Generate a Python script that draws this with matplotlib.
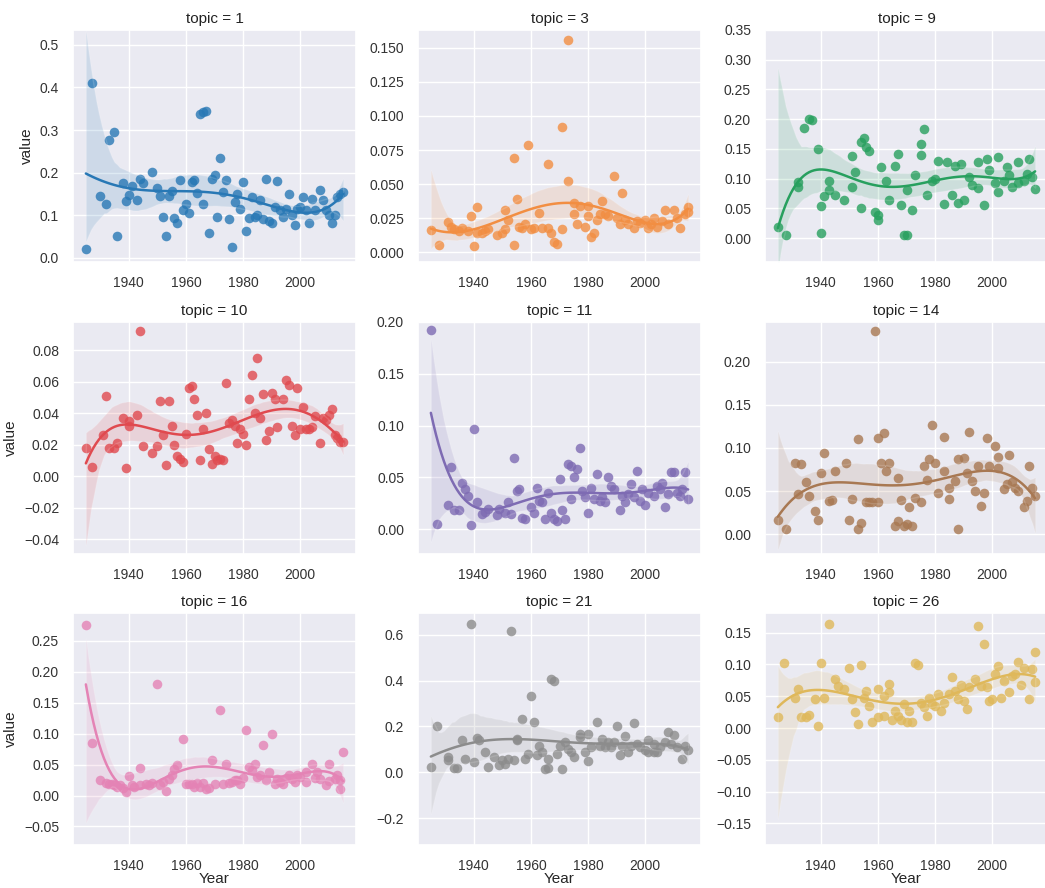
import matplotlib
matplotlib.use("Agg")
import matplotlib.pyplot as plt
import matplotlib.ticker as mticker
import numpy as np
import seaborn as sns

# topic ids shown in the grid, row by row
topics = [1, 3, 9, 10, 11, 14, 16, 21, 26]
colors = ['#2878b5', '#f28e42', '#27a05e', '#e04a4f', '#7e6bb3',
          '#a87852', '#e483b5', '#8c8c8c', '#dfb85a']

# (year, value) points, one list per topic
pts_t1 = [(1925, .02), (1927, .41), (1930, .146), (1932, .127), (1933, .277), (1935, .295),
          (1936, .05), (1938, .175), (1939, .133), (1940, .148), (1941, .169), (1943, .136),
          (1944, .185), (1945, .175), (1948, .202), (1950, .165), (1951, .144), (1952, .095),
          (1953, .05), (1954, .144), (1955, .156), (1956, .094), (1957, .081), (1958, .182),
          (1959, .112), (1960, .127), (1961, .105), (1962, .179), (1963, .182), (1964, .152),
          (1965, .338), (1966, .342), (1966, .127), (1967, .345), (1968, .059), (1969, .186),
          (1970, .194), (1971, .095), (1972, .235), (1973, .154), (1974, .182), (1975, .092),
          (1976, .025), (1977, .131), (1978, .15), (1979, .115), (1980, .179), (1981, .062),
          (1982, .094), (1983, .142), (1984, .096), (1985, .1), (1986, .135), (1987, .092),
          (1988, .185), (1989, .087), (1990, .081), (1991, .119), (1992, .181), (1993, .112),
          (1994, .096), (1995, .115), (1996, .15), (1997, .1), (1998, .077), (1999, .115),
          (2000, .12), (2001, .142), (2002, .112), (2003, .082), (2004, .138), (2005, .112),
          (2007, .158), (2008, .135), (2009, .112), (2010, .1), (2011, .081), (2012, .1),
          (2013, .142), (2014, .15), (2015, .154)]

pts_t3 = [(1925, .0165), (1928, .0056), (1931, .0225), (1932, .019), (1933, .017), (1935, .0157),
          (1936, .018), (1938, .0157), (1939, .0266), (1940, .0048), (1941, .033), (1941, .0145),
          (1943, .0145), (1944, .0157), (1945, .017), (1948, .0128), (1950, .0145), (1951, .017),
          (1951, .031), (1952, .024), (1954, .0056), (1954, .069), (1955, .039), (1956, .019),
          (1957, .018), (1958, .0206), (1959, .079), (1960, .017), (1961, .018), (1963, .029),
          (1964, .018), (1966, .065), (1966, .018), (1967, .0145), (1968, .0073), (1969, .0065),
          (1971, .092), (1971, .017), (1973, .156), (1973, .052), (1975, .028), (1975, .036),
          (1976, .0206), (1977, .034), (1979, .019), (1980, .0266), (1980, .034), (1981, .0114),
          (1982, .0145), (1983, .024), (1984, .028), (1985, .0375), (1986, .028), (1987, .0266),
          (1989, .0557), (1990, .025), (1991, .0206), (1992, .0436), (1993, .024), (1994, .0206),
          (1996, .018), (1997, .023), (1998, .0218), (2000, .024), (2001, .018), (2002, .0206),
          (2003, .025), (2004, .019), (2006, .023), (2007, .031), (2008, .0206), (2010, .031),
          (2011, .025), (2012, .018), (2014, .028), (2015, .033), (2015, .030)]

pts_t9 = [(1925, .018), (1928, .006), (1932, .094), (1932, .086), (1934, .186), (1936, .2),
          (1937, .199), (1939, .15), (1940, .008), (1940, .054), (1941, .071), (1943, .081),
          (1943, .096), (1945, .072), (1948, .064), (1951, .086), (1951, .139), (1952, .112),
          (1954, .051), (1954, .161), (1955, .169), (1956, .153), (1957, .147), (1959, .044),
          (1960, .031), (1960, .039), (1961, .119), (1963, .097), (1964, .064), (1966, .122),
          (1967, .142), (1968, .056), (1969, .006), (1970, .006), (1970, .081), (1972, .047),
          (1973, .106), (1975, .158), (1975, .14), (1976, .183), (1977, .072), (1979, .097),
          (1980, .1), (1981, .129), (1983, .058), (1984, .128), (1986, .072), (1987, .122),
          (1988, .06), (1989, .125), (1990, .064), (1992, .103), (1993, .089), (1995, .084),
          (1995, .128), (1997, .056), (1998, .133), (1999, .114), (2001, .092), (2002, .078),
          (2002, .136), (2004, .097), (2005, .119), (2006, .106), (2007, .086), (2009, .092),
          (2009, .128), (2011, .097), (2012, .108), (2013, .133), (2014, .103), (2015, .083)]

pts_t10 = [(1925, .018), (1927, .006), (1931, .026), (1932, .051), (1933, .018), (1935, .018),
           (1936, .021), (1938, .037), (1939, .005), (1940, .035), (1940, .032), (1943, .039),
           (1944, .092), (1945, .019), (1948, .015), (1950, .019), (1951, .048), (1952, .026),
           (1953, .007), (1954, .048), (1955, .032), (1956, .02), (1957, .013), (1958, .011),
           (1959, .009), (1960, .027), (1961, .056), (1962, .057), (1963, .049), (1964, .039),
           (1965, .01), (1966, .03), (1967, .04), (1968, .017), (1969, .008), (1970, .013),
           (1971, .01), (1972, .011), (1973, .01), (1974, .059), (1975, .034), (1976, .036),
           (1977, .032), (1978, .021), (1979, .03), (1980, .027), (1981, .02), (1982, .049),
           (1983, .064), (1984, .04), (1985, .075), (1986, .037), (1987, .052), (1988, .023),
           (1989, .029), (1990, .053), (1991, .049), (1992, .031), (1994, .049), (1995, .061),
           (1996, .058), (1997, .032), (1998, .026), (1999, .056), (2000, .03), (2001, .044),
           (2002, .03), (2003, .03), (2004, .031), (2005, .038), (2007, .021), (2008, .037),
           (2009, .036), (2010, .039), (2011, .043), (2012, .026), (2013, .024), (2014, .022),
           (2015, .022)]

pts_t11 = [(1925, .192), (1927, .005), (1931, .023), (1932, .06), (1933, .018), (1935, .018),
           (1936, .045), (1937, .039), (1938, .032), (1939, .004), (1940, .097), (1941, .026),
           (1943, .015), (1944, .017), (1945, .019), (1948, .014), (1949, .019), (1951, .016),
           (1952, .026), (1953, .015), (1954, .069), (1955, .037), (1956, .039), (1957, .011),
           (1958, .01), (1960, .021), (1961, .016), (1962, .04), (1963, .027), (1964, .026),
           (1965, .01), (1966, .035), (1967, .016), (1968, .01), (1969, .008), (1970, .048),
           (1971, .018), (1972, .01), (1973, .063), (1974, .061), (1974, .029), (1975, .05),
           (1976, .058), (1977, .078), (1978, .037), (1979, .031), (1980, .016), (1981, .04),
           (1982, .029), (1983, .053), (1984, .027), (1985, .031), (1986, .026), (1987, .05),
           (1988, .042), (1989, .039), (1991, .018), (1992, .032), (1993, .026), (1994, .034),
           (1995, .044), (1996, .031), (1997, .056), (1998, .027), (1999, .039), (2000, .023),
           (2001, .035), (2003, .032), (2004, .042), (2005, .039), (2006, .045), (2007, .021),
           (2008, .034), (2009, .055), (2010, .055), (2011, .035), (2012, .032), (2013, .039),
           (2014, .055), (2015, .029)]

pts_t14 = [(1925, .0165), (1928, .006), (1931, .083), (1932, .046), (1933, .081), (1935, .06),
           (1936, .044), (1938, .027), (1939, .017), (1940, .071), (1941, .094), (1943, .038),
           (1944, .04), (1945, .073), (1949, .083), (1950, .017), (1951, .041), (1953, .11),
           (1953, .006), (1954, .013), (1956, .037), (1957, .037), (1958, .037), (1959, .235),
           (1960, .112), (1960, .037), (1961, .083), (1962, .117), (1963, .073), (1964, .083),
           (1966, .009), (1967, .065), (1967, .015), (1968, .04), (1969, .009), (1970, .012),
           (1971, .031), (1972, .009), (1973, .042), (1975, .037), (1976, .079), (1977, .063),
           (1978, .087), (1979, .127), (1980, .083), (1981, .048), (1983, .113), (1983, .073),
           (1985, .054), (1985, .041), (1987, .062), (1988, .0065), (1988, .087), (1990, .088),
           (1991, .071), (1992, .119), (1993, .062), (1994, .05), (1995, .079), (1996, .033),
           (1997, .048), (1998, .112), (1999, .079), (2001, .102), (2002, .09), (2002, .077),
           (2004, .052), (2005, .058), (2006, .092), (2007, .06), (2008, .054), (2009, .05),
           (2011, .031), (2012, .038), (2013, .079), (2014, .054), (2015, .044)]

pts_t16 = [(1925, .276), (1927, .085), (1930, .025), (1932, .021), (1933, .019), (1934, .018),
           (1935, .017), (1936, .014), (1937, .017), (1938, .012), (1939, .006), (1940, .032),
           (1941, .017), (1942, .014), (1944, .044), (1944, .017), (1946, .018), (1947, .017),
           (1948, .021), (1950, .181), (1951, .017), (1952, .022), (1953, .007), (1954, .027),
           (1955, .033), (1956, .043), (1957, .049), (1959, .091), (1960, .019), (1961, .019),
           (1962, .018), (1963, .014), (1964, .021), (1965, .014), (1966, .021), (1967, .01),
           (1968, .012), (1969, .057), (1970, .019), (1972, .139), (1973, .019), (1974, .051),
           (1975, .021), (1976, .022), (1977, .025), (1978, .025), (1979, .019), (1980, .028),
           (1981, .106), (1982, .046), (1983, .041), (1984, .051), (1985, .03), (1986, .033),
           (1987, .082), (1988, .025), (1989, .038), (1990, .099), (1991, .018), (1992, .027),
           (1993, .022), (1994, .018), (1995, .028), (1996, .033), (1997, .027), (1998, .022),
           (1999, .033), (2000, .03), (2002, .038), (2002, .022), (2004, .051), (2005, .028),
           (2006, .038), (2007, .027), (2009, .017), (2010, .023), (2010, .051), (2012, .027),
           (2013, .033), (2014, .025), (2014, .01), (2015, .071)]

pts_t21 = [(1925, .024), (1927, .204), (1931, .067), (1931, .052), (1933, .019), (1934, .019),
           (1936, .139), (1937, .06), (1939, .646), (1940, .045), (1941, .149), (1942, .139),
           (1944, .088), (1945, .024), (1947, .067), (1949, .031), (1950, .052), (1951, .038),
           (1952, .06), (1953, .617), (1954, .052), (1955, .146), (1955, .139), (1957, .233),
           (1958, .06), (1959, .081), (1960, .333), (1961, .218), (1962, .074), (1963, .117),
           (1964, .088), (1965, .013), (1966, .06), (1966, .019), (1967, .405), (1968, .398),
           (1969, .081), (1970, .117), (1971, .016), (1972, .132), (1973, .103), (1974, .088),
           (1975, .067), (1977, .153), (1977, .168), (1979, .088), (1980, .048), (1980, .168),
           (1981, .11), (1983, .218), (1984, .117), (1985, .146), (1986, .11), (1987, .132),
           (1988, .11), (1989, .132), (1990, .204), (1991, .074), (1992, .117), (1993, .16),
           (1994, .088), (1995, .117), (1996, .215), (1997, .124), (1998, .11), (2000, .096),
           (2001, .088), (2001, .139), (2003, .088), (2003, .124), (2004, .088), (2005, .11),
           (2007, .132), (2008, .175), (2009, .124), (2010, .164), (2011, .11), (2013, .06),
           (2014, .117), (2015, .096)]

pts_t26 = [(1925, .018), (1927, .102), (1931, .048), (1932, .062), (1933, .018), (1935, .018),
           (1936, .02), (1938, .046), (1939, .004), (1940, .102), (1941, .048), (1943, .163),
           (1945, .077), (1946, .066), (1948, .062), (1950, .095), (1951, .046), (1952, .025),
           (1953, .006), (1954, .099), (1955, .048), (1956, .059), (1957, .035), (1958, .009),
           (1960, .061), (1960, .017), (1962, .051), (1962, .019), (1964, .069), (1964, .056),
           (1965, .012), (1966, .027), (1967, .019), (1968, .012), (1969, .038), (1970, .009),
           (1971, .027), (1972, .009), (1973, .103), (1974, .099), (1975, .04), (1976, .033),
           (1977, .019), (1978, .048), (1979, .038), (1980, .035), (1981, .053), (1982, .027),
           (1983, .04), (1985, .053), (1986, .08), (1987, .059), (1988, .046), (1989, .068),
           (1990, .043), (1991, .03), (1992, .064), (1994, .077), (1995, .16), (1996, .066),
           (1997, .132), (1998, .064), (1999, .043), (2000, .046), (2001, .085), (2002, .097),
           (2003, .048), (2004, .074), (2006, .056), (2007, .082), (2008, .085), (2009, .104),
           (2010, .068), (2011, .095), (2013, .046), (2014, .093), (2015, .072), (2015, .12)]

all_pts = [pts_t1, pts_t3, pts_t9, pts_t10, pts_t11, pts_t14, pts_t16, pts_t21, pts_t26]

sns.set_theme(style="darkgrid")
plt.rcParams['font.family'] = ['Liberation Sans', 'DejaVu Sans']

fig = plt.figure(figsize=(10.45, 8.88), dpi=100)
W, H = 1045.0, 888.0
col_left = [73, 418, 765]
row_top = [30, 322, 613]
aw, ah = 283, 232

ylims = [(-0.01, 0.535), (-0.007, 0.163), (-0.04, 0.35),
         (-0.0495, 0.098), (-0.024, 0.20), (-0.023, 0.246),
         (-0.08, 0.295), (-0.317, 0.695), (-0.184, 0.181)]
ysteps = [0.1, 0.025, 0.05, 0.02, 0.05, 0.05, 0.05, 0.2, 0.05]

for i in range(len(topics)):
    r, c = divmod(i, 3)
    yr, val = zip(*all_pts[i])
    ax = fig.add_axes([col_left[c] / W, 1 - (row_top[r] + ah) / H, aw / W, ah / H])
    sns.regplot(x=np.array(yr, float), y=np.array(val), ax=ax, order=5,
                color=colors[i], truncate=True, seed=i,
                scatter_kws={'s': 48, 'alpha': 0.8, 'linewidths': 0},
                line_kws={'lw': 1.8})
    ax.set_xlim(1920.5, 2019.5)
    ax.set_ylim(*ylims[i])
    ax.xaxis.set_major_locator(mticker.FixedLocator([1940, 1960, 1980, 2000]))
    ax.yaxis.set_major_locator(mticker.MultipleLocator(ysteps[i]))
    ax.tick_params(labelsize=10, pad=4, colors='#333333')
    ax.set_title('topic = %d' % topics[i], fontsize=11, color='#222222', pad=5)
    ax.set_xlabel('Year' if r == 2 else '', fontsize=11, labelpad=-1)
    ax.set_ylabel('value' if c == 0 else '', fontsize=11)

fig.savefig("out.png", dpi=100)
